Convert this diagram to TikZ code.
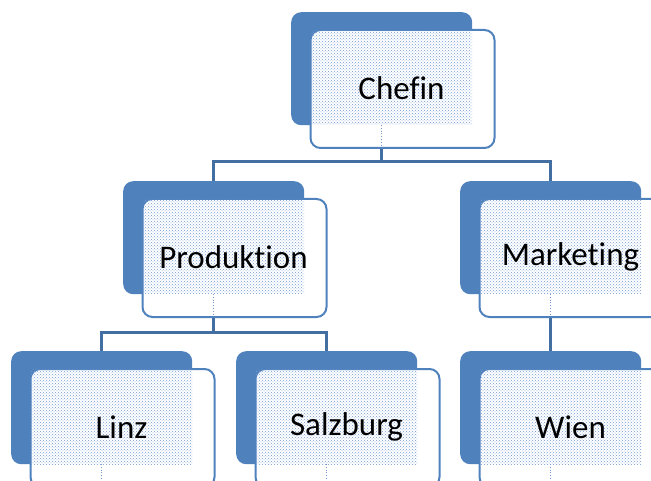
\documentclass[tikz,border=0pt]{standalone}
\usepackage{fontspec}
\setmainfont{Carlito}[Ligatures={NoCommon}]
\usetikzlibrary{patterns,backgrounds}
\definecolor{ofblue}{RGB}{79,129,189}
\definecolor{lnblue}{RGB}{66,110,162}
\definecolor{dotblue}{RGB}{118,156,212}
\tikzset{
  backbox/.style={fill=ofblue, draw=none, rounded corners=10pt, minimum width=181pt, minimum height=113pt, inner sep=0pt, anchor=north west},
  frontbox/.style={fill=white, draw=ofblue, line width=2pt, rounded corners=10pt, minimum width=184pt, minimum height=118pt, inner sep=0pt, anchor=north west},
  dotfill/.style={pattern=crosshatch dots, pattern color=dotblue},
  txt/.style={font=\fontsize{33}{40}\selectfont, inner sep=0pt, text=black},
  conn/.style={draw=lnblue, line width=3pt},
  faint/.style={draw=dotblue, line width=0.8pt, dotted},
}
\newcommand\orgunit[4]{%
  \begin{scope}[shift={(#2,#3)}]
    \node[backbox] (#1B) at (0,0) {};
    \node[frontbox] (#1F) at (18.5,17) {};
    \fill[dotfill] (20,18.5) rectangle (181,113);
    \draw[faint] (90.5,113) -- (90.5,134);
    \node[txt] (#1) at (110.5,76) {#4};
  \end{scope}}
\begin{document}
\begin{tikzpicture}[x=1pt,y=-1pt]
  \useasboundingbox (0,0) rectangle (651,481);
  \clip (0,0) rectangle (651,481);
  \coordinate (hubA) at (0,162);
  \coordinate (hubB) at (0,332);
  \orgunit{chef}{291}{12}{Chefin}
  \orgunit{prod}{123}{181}{Produktion}
  \orgunit{mark}{460}{181}{Marketing}
  \orgunit{linz}{11}{351}{Linz}
  \orgunit{salz}{236}{351}{Salzburg}
  \orgunit{wien}{460}{351}{Wien}
  \begin{pgfonlayer}{background}
    \draw[conn] (chefB.center) -- (chefB.center |- hubA) -| (prodB.center);
    \draw[conn] (chefB.center |- hubA) -| (markB.center);
    \draw[conn] (prodB.center) -- (prodB.center |- hubB) -| (linzB.center);
    \draw[conn] (prodB.center |- hubB) -| (salzB.center);
    \draw[conn] (markB.center) -- (wienB.center);
  \end{pgfonlayer}
\end{tikzpicture}
\end{document}
